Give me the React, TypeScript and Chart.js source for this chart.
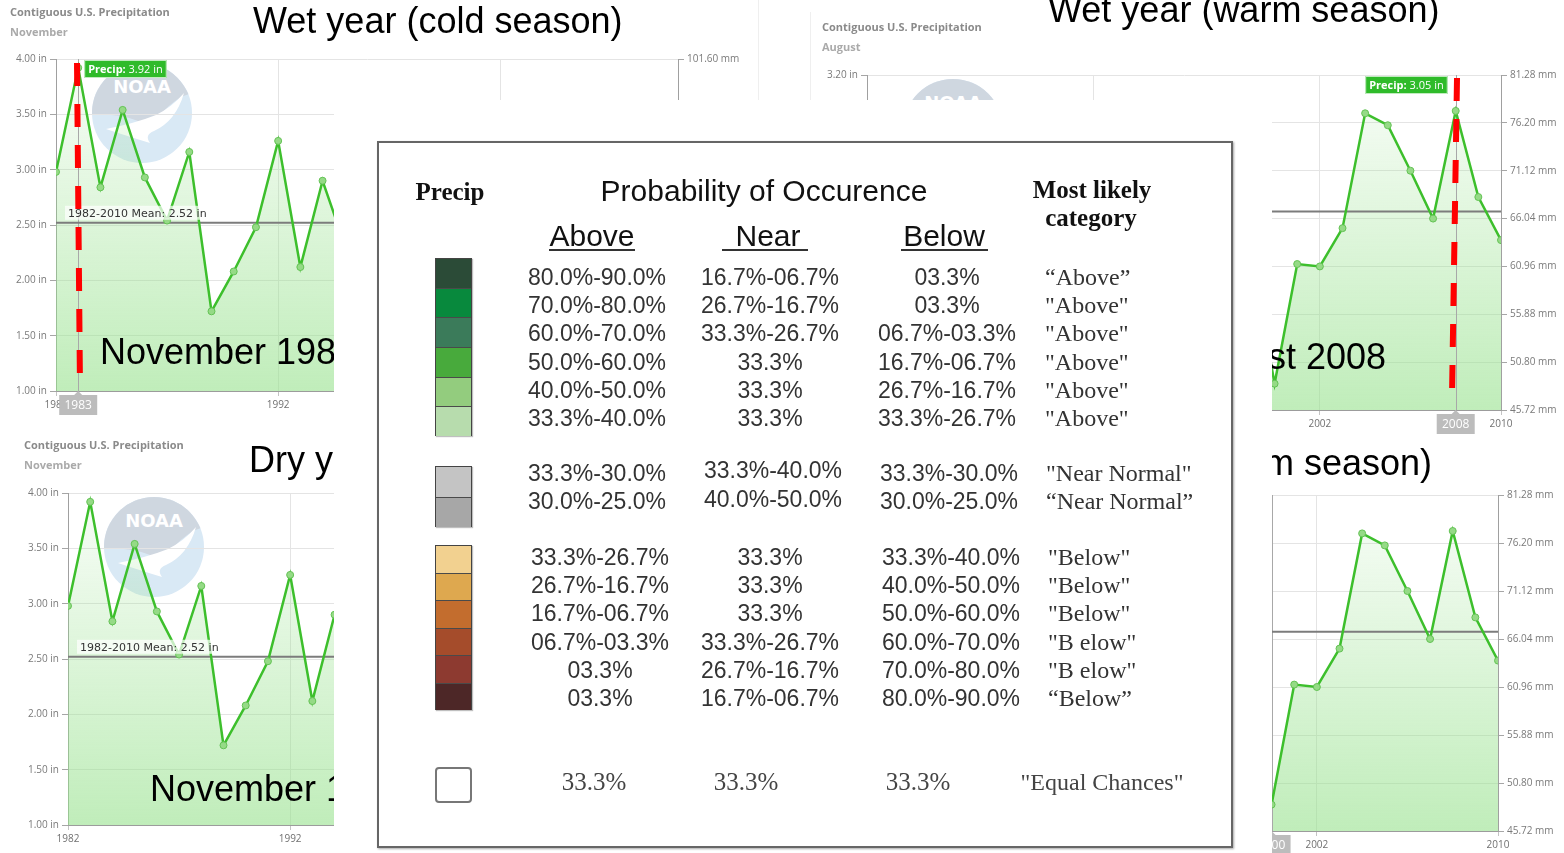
import { useEffect, useRef } from 'react';
import { Chart, registerables } from 'chart.js';

Chart.register(...registerables);

// ---------------- data ----------------
const YEAR_RANGE = [1982, 2010];
const X_TICK_YEARS = [1982, 1992, 2002, 2010];

const NOV_YEARS = [1982, 1983, 1984, 1985, 1986, 1987, 1988, 1989, 1990, 1991, 1992, 1993, 1994, 1995];
const NOV_PRECIP_IN = [2.98, 3.92, 2.84, 3.54, 2.93, 2.54, 3.16, 1.72, 2.08, 2.48, 3.26, 2.12, 2.9, 2.32];
const NOV_MEAN_IN = 2.52;
const NOV_Y_TICKS_IN = [1.0, 1.5, 2.0, 2.5, 3.0, 3.5, 4.0];

const AUG_YEARS = [1999, 2000, 2001, 2002, 2003, 2004, 2005, 2006, 2007, 2008, 2009, 2010];
const AUG_PRECIP_IN = [2.45, 1.91, 2.41, 2.4, 2.56, 3.04, 2.99, 2.8, 2.6, 3.05, 2.69, 2.51];
const AUG_MEAN_IN = 2.63;
const AUG_Y_TICKS_IN = [1.8, 2.0, 2.2, 2.4, 2.6, 2.8, 3.0, 3.2];

const MM_PER_IN = 25.4;

// table data
const ABOVE_SWATCHES = ['#2b4b37', '#08893d', '#3b7b5a', '#48aa3c', '#93cc7e', '#b7dcad'];
const ABOVE_ROWS_ABOVE = ['80.0%-90.0%', '70.0%-80.0%', '60.0%-70.0%', '50.0%-60.0%', '40.0%-50.0%', '33.3%-40.0%'];
const ABOVE_ROWS_NEAR = ['16.7%-06.7%', '26.7%-16.7%', '33.3%-26.7%', '33.3%', '33.3%', '33.3%'];
const ABOVE_ROWS_BELOW = ['03.3%', '03.3%', '06.7%-03.3%', '16.7%-06.7%', '26.7%-16.7%', '33.3%-26.7%'];
const ABOVE_ROWS_CATEGORY = ['\u201CAbove\u201D', '"Above"', '"Above"', '"Above"', '"Above"', '"Above"'];

const NEAR_SWATCHES = ['#c4c4c4', '#a7a7a7'];
const NEAR_ROWS_ABOVE = ['33.3%-30.0%', '30.0%-25.0%'];
const NEAR_ROWS_NEAR = ['33.3%-40.0%', '40.0%-50.0%'];
const NEAR_ROWS_BELOW = ['33.3%-30.0%', '30.0%-25.0%'];
const NEAR_ROWS_CATEGORY = ['"Near Normal"', '\u201CNear Normal\u201D'];

const BELOW_SWATCHES = ['#f2d190', '#dea84f', '#c36d2e', '#a54c2b', '#8d3a30', '#4d2727'];
const BELOW_ROWS_ABOVE = ['33.3%-26.7%', '26.7%-16.7%', '16.7%-06.7%', '06.7%-03.3%', '03.3%', '03.3%'];
const BELOW_ROWS_NEAR = ['33.3%', '33.3%', '33.3%', '33.3%-26.7%', '26.7%-16.7%', '16.7%-06.7%'];
const BELOW_ROWS_BELOW = ['33.3%-40.0%', '40.0%-50.0%', '50.0%-60.0%', '60.0%-70.0%', '70.0%-80.0%', '80.0%-90.0%'];
const BELOW_ROWS_CATEGORY = ['"Below"', '"Below"', '"Below"', '"B elow"', '"B elow"', '\u201CBelow\u201D'];

const EQUAL_ROW = ['33.3%', '33.3%', '33.3%', '"Equal Chances"'];

// ---------------- styles ----------------
const SANS = '"Liberation Sans", Arial, sans-serif';
const SERIF = '"Liberation Serif", "Times New Roman", serif';
const UI = '"Open Sans", "DejaVu Sans", sans-serif';
const LINE_GREEN = '#3dbf2c';

type Highlight = {
  year: number;
  line: boolean;
  label: boolean;
  tooltip?: 'left' | 'right';
  dash?: { dxTop: number; topOff: number; dxBot: number; botOff: number };
};

type PanelCfg = {
  id: string;
  left: number;
  top: number;
  width: number;
  height: number;
  padTop: number;
  yW: number;
  y2W: number;
  xH: number;
  years: number[];
  values: number[];
  mean: number;
  yTicks: number[];
  highlight?: Highlight;
};

const PANELS: PanelCfg[] = [
  {
    id: 'tl', left: 0, top: 0, width: 758, height: 430, padTop: 59, yW: 56, y2W: 80, xH: 39,
    years: NOV_YEARS, values: NOV_PRECIP_IN, mean: NOV_MEAN_IN, yTicks: NOV_Y_TICKS_IN,
    highlight: { year: 1983, line: true, label: true, tooltip: 'right', dash: { dxTop: -1.2, topOff: 4, dxBot: 1.8, botOff: -1 } },
  },
  {
    id: 'bl', left: 12, top: 434, width: 758, height: 419, padTop: 59, yW: 56, y2W: 80, xH: 28,
    years: NOV_YEARS, values: NOV_PRECIP_IN, mean: NOV_MEAN_IN, yTicks: NOV_Y_TICKS_IN,
  },
  {
    id: 'tr', left: 811, top: 15, width: 753, height: 425, padTop: 60, yW: 56, y2W: 63, xH: 30,
    years: AUG_YEARS, values: AUG_PRECIP_IN, mean: AUG_MEAN_IN, yTicks: AUG_Y_TICKS_IN,
    highlight: { year: 2008, line: true, label: true, tooltip: 'left', dash: { dxTop: 1.3, topOff: 3, dxBot: -3.7, botOff: -15 } },
  },
  {
    id: 'br', left: 808, top: 435, width: 756, height: 418, padTop: 60, yW: 56, y2W: 66, xH: 22,
    years: AUG_YEARS, values: AUG_PRECIP_IN, mean: AUG_MEAN_IN, yTicks: AUG_Y_TICKS_IN,
    highlight: { year: 2000, line: true, label: true },
  },
];

function makeDecor(p: PanelCfg) {
  return {
    id: 'decor_' + p.id,
    beforeDatasetsDraw(chart: any) {
      const h = p.highlight;
      if (!h || !h.line) return;
      const { ctx, chartArea: ca } = chart;
      const x = Math.round(chart.scales.x.getPixelForValue(h.year)) + 0.5;
      ctx.save();
      ctx.strokeStyle = '#a8a8a8';
      ctx.lineWidth = 1;
      ctx.beginPath();
      ctx.moveTo(x, ca.top);
      ctx.lineTo(x, ca.bottom);
      ctx.stroke();
      ctx.restore();
    },
    afterDatasetsDraw(chart: any) {
      const { ctx, chartArea: ca } = chart;
      const y = chart.scales.y.getPixelForValue(p.mean);
      const text = `${YEAR_RANGE[0]}-${YEAR_RANGE[1]} Mean: ${p.mean.toFixed(2)} in`;
      ctx.save();
      ctx.font = '11px "DejaVu Sans", sans-serif';
      const w = ctx.measureText(text).width;
      const x0 = ca.left + 12;
      const base = y - 6;
      ctx.fillStyle = 'rgba(255,255,255,0.7)';
      ctx.fillRect(x0 - 3, base - 11, w + 6, 14);
      ctx.fillStyle = '#333';
      ctx.textAlign = 'left';
      ctx.textBaseline = 'alphabetic';
      ctx.fillText(text, x0, base);
      ctx.restore();
    },
    afterDraw(chart: any) {
      const h = p.highlight;
      if (!h) return;
      const { ctx, chartArea: ca } = chart;
      const x = chart.scales.x.getPixelForValue(h.year);
      ctx.save();
      if (h.label) {
        const top = ca.bottom + 4;
        const bw = 38;
        const bh = 20;
        ctx.fillStyle = '#bcbcbc';
        ctx.beginPath();
        ctx.moveTo(x - 4, top);
        ctx.lineTo(x, top - 4);
        ctx.lineTo(x + 4, top);
        ctx.closePath();
        ctx.fill();
        ctx.fillRect(x - bw / 2, top, bw, bh);
        ctx.fillStyle = '#ffffff';
        ctx.font = '12px ' + UI;
        ctx.textAlign = 'center';
        ctx.textBaseline = 'middle';
        ctx.fillText(String(h.year), x, top + bh / 2 + 1);
      }
      if (h.tooltip) {
        const v = p.values[p.years.indexOf(h.year)];
        const t1 = 'Precip:';
        const t2 = ' ' + v.toFixed(2) + ' in';
        ctx.font = 'bold 11px ' + UI;
        const w1 = ctx.measureText(t1).width;
        ctx.font = '11px ' + UI;
        const w2 = ctx.measureText(t2).width;
        const bw = w1 + w2 + 8;
        const bh = 18;
        const bx = h.tooltip === 'right' ? x + 6 : x - 8 - bw;
        const by = ca.top + 1;
        ctx.fillStyle = '#2fbb2a';
        ctx.fillRect(bx, by, bw, bh);
        ctx.strokeStyle = 'rgba(255,255,255,0.7)';
        ctx.lineWidth = 1;
        ctx.strokeRect(bx + 0.5, by + 0.5, bw - 1, bh - 1);
        ctx.fillStyle = '#ffffff';
        ctx.textAlign = 'left';
        ctx.textBaseline = 'middle';
        ctx.font = 'bold 11px ' + UI;
        ctx.fillText(t1, bx + 4, by + bh / 2 + 1);
        ctx.font = '11px ' + UI;
        ctx.fillText(t2, bx + 4 + w1, by + bh / 2 + 1);
      }
      if (h.dash) {
        ctx.strokeStyle = '#ff0000';
        ctx.lineWidth = 6;
        ctx.lineCap = 'butt';
        ctx.setLineDash([23, 18]);
        ctx.beginPath();
        ctx.moveTo(x + h.dash.dxTop, ca.top + h.dash.topOff);
        ctx.lineTo(x + h.dash.dxBot, ca.bottom + h.dash.botOff);
        ctx.stroke();
      }
      ctx.restore();
    },
  };
}

function buildConfig(p: PanelCfg): any {
  const points = p.years.map((yr, i) => ({ x: yr, y: p.values[i] }));
  const meanPts = [
    { x: YEAR_RANGE[0], y: p.mean },
    { x: YEAR_RANGE[1], y: p.mean },
  ];
  const yMin = p.yTicks[0];
  const yMax = p.yTicks[p.yTicks.length - 1];
  const tickFont = { family: UI, size: 10 };
  return {
    type: 'line',
    data: {
      datasets: [
        {
          data: points,
          borderColor: LINE_GREEN,
          borderWidth: 2.5,
          tension: 0,
          pointRadius: 3.5,
          pointBackgroundColor: '#95da86',
          pointBorderColor: '#63c254',
          pointBorderWidth: 1,
          fill: 'start',
          backgroundColor: (c: any) => {
            const ca = c.chart.chartArea;
            if (!ca) return 'rgba(150,225,140,0.3)';
            const g = c.chart.ctx.createLinearGradient(0, ca.top, 0, ca.bottom);
            g.addColorStop(0, 'rgba(150,225,140,0.06)');
            g.addColorStop(1, 'rgba(150,225,140,0.6)');
            return g;
          },
        },
        {
          data: meanPts,
          borderColor: '#7c7c7c',
          borderWidth: 2,
          pointRadius: 0,
          fill: false,
        },
      ],
    },
    options: {
      responsive: false,
      animation: false,
      devicePixelRatio: 1,
      events: [],
      layout: { padding: { top: p.padTop, left: 0, right: 0, bottom: 0 } },
      plugins: {
        legend: { display: false },
        tooltip: { enabled: false },
        filler: { drawTime: 'beforeDatasetsDraw' },
      },
      scales: {
        x: {
          type: 'linear',
          position: 'bottom',
          min: YEAR_RANGE[0],
          max: YEAR_RANGE[1],
          afterBuildTicks: (s: any) => {
            s.ticks = X_TICK_YEARS.map((v) => ({ value: v }));
          },
          afterFit: (s: any) => {
            s.height = p.xH;
          },
          ticks: {
            autoSkip: false,
            maxRotation: 0,
            padding: 3,
            color: '#707070',
            font: tickFont,
            callback: (v: any) => String(v),
          },
          grid: { color: '#e4e4e4', tickColor: '#c4c4c4', tickLength: 5, lineWidth: 1 },
          border: { display: true, color: '#9c9c9c', width: 1 },
        },
        y: {
          type: 'linear',
          position: 'left',
          min: yMin,
          max: yMax,
          afterBuildTicks: (s: any) => {
            s.ticks = p.yTicks.map((v) => ({ value: v }));
          },
          afterFit: (s: any) => {
            s.width = p.yW;
          },
          ticks: {
            padding: 3,
            color: '#7a7a7a',
            font: tickFont,
            callback: (v: any) => Number(v).toFixed(2) + ' in',
          },
          grid: { color: '#e4e4e4', tickColor: '#a6a6a6', tickLength: 6 },
          border: { display: true, color: '#a0a0a0', width: 1 },
        },
        y2: {
          type: 'linear',
          position: 'right',
          min: yMin * MM_PER_IN,
          max: yMax * MM_PER_IN,
          afterBuildTicks: (s: any) => {
            s.ticks = p.yTicks.map((v) => ({ value: v * MM_PER_IN }));
          },
          afterFit: (s: any) => {
            s.width = p.y2W;
          },
          ticks: {
            padding: 3,
            color: '#7a7a7a',
            font: tickFont,
            callback: (v: any) => Number(v).toFixed(2) + ' mm',
          },
          grid: { drawOnChartArea: false, tickColor: '#a6a6a6', tickLength: 6 },
          border: { display: true, color: '#a0a0a0', width: 1 },
        },
      },
    },
    plugins: [makeDecor(p)],
  };
}

function PanelChart({ p }: { p: PanelCfg }) {
  const ref = useRef<HTMLCanvasElement>(null);
  useEffect(() => {
    if (!ref.current) return;
    const chart = new Chart(ref.current, buildConfig(p));
    return () => chart.destroy();
  }, [p]);
  return (
    <canvas
      ref={ref}
      width={p.width}
      height={p.height}
      style={{ position: 'absolute', left: p.left, top: p.top, width: p.width, height: p.height }}
    />
  );
}

function NoaaLogo({ p }: { p: PanelCfg }) {
  const r = 50;
  const cx = p.left + p.yW + 86;
  const cy = p.top + p.padTop + 54;
  const clipId = 'noaaclip_' + p.id;
  return (
    <svg
      style={{ position: 'absolute', left: cx - r, top: cy - r, opacity: 0.95 }}
      width={2 * r}
      height={2 * r}
      viewBox="0 0 100 100"
    >
      <defs>
        <clipPath id={clipId}>
          <circle cx="50" cy="50" r="50" />
        </clipPath>
      </defs>
      <g clipPath={`url(#${clipId})`}>
        <rect width="100" height="100" fill="#d8e8f5" />
        <path d="M0 0 H100 V30 Q84 34 70 50 Q58 62 46 58 Q26 50 0 52 Z" fill="#cdd5df" />
        <path d="M14 66 Q44 60 64 52 Q80 44 92 30 Q84 58 62 68 Q52 72 58 80 Q38 74 14 66 Z" fill="#ffffff" />
      </g>
      <text x="50" y="30" textAnchor="middle" fill="#ffffff" fontFamily='"DejaVu Sans", sans-serif' fontWeight="bold" fontSize="18">
        NOAA
      </text>
    </svg>
  );
}

function Abs({ left, top, children, style }: { left: number; top: number; children: any; style?: any }) {
  return <div style={{ position: 'absolute', left, top, whiteSpace: 'nowrap', ...style }}>{children}</div>;
}

function SlideText({ text, left, right, top }: { text: string; left?: number; right?: number; top: number }) {
  const st: any = {
    position: 'absolute',
    top,
    fontFamily: SANS,
    fontSize: 36,
    lineHeight: '36px',
    color: '#000',
    whiteSpace: 'nowrap',
  };
  if (left !== undefined) st.left = left;
  if (right !== undefined) {
    st.right = 1564 - right;
    st.textAlign = 'right';
  }
  return <div style={st}>{text}</div>;
}

function Cell({ x, cy, text, size = 23, serif = false, align = 'center', color = '#333', bold = false }: any) {
  const top = cy - size * (serif ? 0.5065 : 0.4885);
  const w = 700;
  const st: any = {
    position: 'absolute',
    top,
    fontFamily: serif ? SERIF : SANS,
    fontSize: size,
    lineHeight: size + 'px',
    fontWeight: bold ? 700 : 400,
    color,
    whiteSpace: 'nowrap',
  };
  if (align === 'center') {
    st.left = x - w / 2;
    st.width = w;
    st.textAlign = 'center';
  } else {
    st.left = x;
  }
  return <div style={st}>{text}</div>;
}

function Swatches({ colors, top, height, left = 435, width = 37 }: { colors: string[]; top: number; height: number; left?: number; width?: number }) {
  const rowH = height / colors.length;
  return (
    <div style={{ position: 'absolute', left, top, width, height, border: '1px solid #444', boxSizing: 'border-box', boxShadow: '1px 1px 1px rgba(0,0,0,0.25)' }}>
      {colors.map((c, i) => (
        <div
          key={i}
          style={{
            position: 'absolute',
            left: 0,
            right: 0,
            top: i * rowH - (i > 0 ? 1 : 0),
            height: rowH + (i > 0 ? 1 : 0) - (i === colors.length - 1 ? 1 : 0),
            background: c,
            borderTop: i > 0 ? '1px solid #4a4a4a' : 'none',
            boxSizing: 'border-box',
          }}
        />
      ))}
    </div>
  );
}

function Group({ rowsY, nearRowsY, colX, catX, above, near, below, cats }: any) {
  return (
    <>
      {above.map((t: string, i: number) => (
        <Cell key={'a' + i} x={colX[0]} cy={rowsY[i]} text={t} />
      ))}
      {near.map((t: string, i: number) => (
        <Cell key={'n' + i} x={colX[1]} cy={(nearRowsY || rowsY)[i]} text={t} />
      ))}
      {below.map((t: string, i: number) => (
        <Cell key={'b' + i} x={colX[2]} cy={rowsY[i]} text={t} />
      ))}
      {cats.map((t: string, i: number) => (
        <Cell key={'c' + i} x={catX} cy={rowsY[i]} text={t} serif size={24} align="left" />
      ))}
    </>
  );
}

function Table() {
  return (
    <>
      <div
        style={{
          position: 'absolute',
          left: 377,
          top: 141,
          width: 856,
          height: 707,
          border: '2px solid #666',
          boxSizing: 'border-box',
          background: '#fff',
          boxShadow: '1px 1px 2px rgba(0,0,0,0.35)',
        }}
      />
      {/* headers */}
      <Cell x={450} cy={192} text="Precip" serif bold size={25} color="#111" />
      <Cell x={764} cy={191} text="Probability of Occurence" size={30} color="#111" />
      <Cell x={1092} cy={190} text="Most likely" serif bold size={25} color="#111" />
      <Cell x={1091} cy={218} text="category" serif bold size={25} color="#111" />
      <Cell x={592} cy={236} text="Above" size={30} color="#111" />
      <Cell x={768} cy={236} text="Near" size={30} color="#111" />
      <Cell x={944} cy={236} text="Below" size={30} color="#111" />
      <div style={{ position: 'absolute', left: 549, top: 249, width: 86, height: 2, background: '#333' }} />
      <div style={{ position: 'absolute', left: 722, top: 249, width: 86, height: 2, background: '#333' }} />
      <div style={{ position: 'absolute', left: 901, top: 249, width: 87, height: 2, background: '#333' }} />

      <Swatches colors={ABOVE_SWATCHES} top={258} height={178} />
      <Group
        rowsY={[277, 305, 333, 362, 390, 418]}
        colX={[597, 770, 947]}
        catX={1045}
        above={ABOVE_ROWS_ABOVE}
        near={ABOVE_ROWS_NEAR}
        below={ABOVE_ROWS_BELOW}
        cats={ABOVE_ROWS_CATEGORY}
      />

      <Swatches colors={NEAR_SWATCHES} top={466} height={61} />
      <Group
        rowsY={[473, 501]}
        nearRowsY={[470, 499]}
        colX={[597, 773, 949]}
        catX={1046}
        above={NEAR_ROWS_ABOVE}
        near={NEAR_ROWS_NEAR}
        below={NEAR_ROWS_BELOW}
        cats={NEAR_ROWS_CATEGORY}
      />

      <Swatches colors={BELOW_SWATCHES} top={545} height={165} />
      <Group
        rowsY={[557, 585, 613, 642, 670, 698]}
        colX={[600, 770, 951]}
        catX={1048}
        above={BELOW_ROWS_ABOVE}
        near={BELOW_ROWS_NEAR}
        below={BELOW_ROWS_BELOW}
        cats={BELOW_ROWS_CATEGORY}
      />

      <div
        style={{
          position: 'absolute',
          left: 435,
          top: 767,
          width: 37,
          height: 36,
          border: '2px solid #777',
          borderRadius: 4,
          boxSizing: 'border-box',
          background: '#fff',
        }}
      />
      <Cell x={594} cy={782} text={EQUAL_ROW[0]} serif size={25} color="#444" />
      <Cell x={746} cy={782} text={EQUAL_ROW[1]} serif size={25} color="#444" />
      <Cell x={918} cy={782} text={EQUAL_ROW[2]} serif size={25} color="#444" />
      <Cell x={1102} cy={782} text={EQUAL_ROW[3]} serif size={24} color="#444" />
    </>
  );
}

const TITLE_STYLE = { fontFamily: UI, fontSize: 11, fontWeight: 700, color: '#8a8a8a', lineHeight: '16px' };
const SUB_STYLE = { fontFamily: UI, fontSize: 11, fontWeight: 700, color: '#aaaaaa', lineHeight: '16px' };

export default function App() {
  useEffect(() => {
    document.body.style.margin = '0';
    document.body.style.overflow = 'hidden';
  }, []);
  return (
    <div
      style={{
        position: 'absolute',
        left: 0,
        top: 0,
        width: 1564,
        height: 853,
        overflow: 'hidden',
        background: '#ffffff',
        fontFamily: SANS,
      }}
    >
      {PANELS.map((p) => (
        <NoaaLogo key={'logo' + p.id} p={p} />
      ))}
      {PANELS.map((p) => (
        <PanelChart key={p.id} p={p} />
      ))}

      {/* screenshot edges */}
      <div style={{ position: 'absolute', left: 758, top: 0, width: 1, height: 100, background: '#efefef' }} />
      <div style={{ position: 'absolute', left: 810, top: 12, width: 1, height: 88, background: '#efefef' }} />

      {/* panel titles */}
      <Abs left={10} top={4} style={TITLE_STYLE}>Contiguous U.S. Precipitation</Abs>
      <Abs left={10} top={24} style={SUB_STYLE}>November</Abs>
      <Abs left={24} top={437} style={TITLE_STYLE}>Contiguous U.S. Precipitation</Abs>
      <Abs left={24} top={457} style={SUB_STYLE}>November</Abs>
      <Abs left={822} top={19} style={TITLE_STYLE}>Contiguous U.S. Precipitation</Abs>
      <Abs left={822} top={39} style={SUB_STYLE}>August</Abs>

      {/* slide texts */}
      <SlideText text="Wet year (cold season)" left={253} top={3} />
      <SlideText text="Wet year (warm season)" left={1048} top={-8.5} />
      <SlideText text="November 1983" left={100} top={333.5} />
      <SlideText text="August 2008" right={1386} top={338.5} />
      <SlideText text="Dry year (cold season)" left={249} top={441.5} />
      <SlideText text="Dry year (warm season)" right={1432} top={444.5} />
      <SlideText text="November 1989" left={150} top={770.5} />

      {/* white backing of the table image */}
      <div style={{ position: 'absolute', left: 334, top: 100, width: 938, height: 753, background: '#ffffff' }} />
      <Table />
    </div>
  );
}
